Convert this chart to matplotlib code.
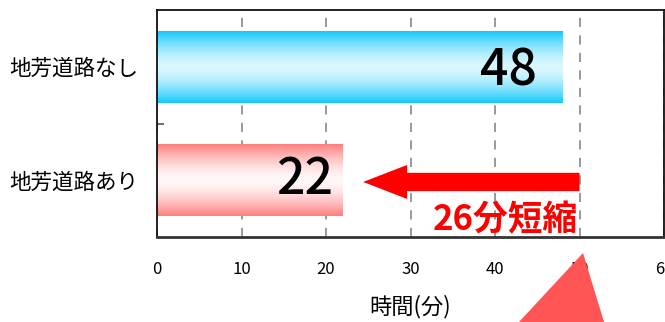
import numpy as np
import matplotlib
matplotlib.use("Agg")
import matplotlib.pyplot as plt
from matplotlib.patches import Polygon

plt.rcParams['font.family'] = ['Noto Sans CJK JP', 'DejaVu Sans']

# ---- data ----
categories = ['地芳道路なし', '地芳道路あり']
values = [48, 22]
label_offsets = [3.0, 1.2]
xticks = [0, 10, 20, 30, 40, 50, 60]
xtick_labels = ['0', '10', '20', '30', '40', '50', '60']
xlabel = '時間(分)'
note_text = '26分短縮'
arrow_start = 50
arrow_end = 24.4

edge_colors = [np.array([20, 200, 250]) / 255, np.array([255, 125, 125]) / 255]
center_colors = [np.array([218, 247, 255]) / 255, np.array([255, 248, 248]) / 255]

fig = plt.figure(figsize=(6.65, 3.22), dpi=100)
ax = fig.add_axes([157 / 665, 85 / 322, 507 / 665, 227 / 322])

ypos = [1, 0]
bar_h = 0.63

# gradient bars
n = 200
t = np.linspace(-1, 1, n)
prof = np.abs(t) ** 1.6
for y, v, ec, cc in zip(ypos, values, edge_colors, center_colors):
    img = cc[None, :] + (ec - cc)[None, :] * prof[:, None]
    img = img[:, None, :]
    ax.imshow(img, extent=[0, v, y - bar_h / 2, y + bar_h / 2], aspect='auto',
              interpolation='bilinear', zorder=2)
ax.set_xlim(0, 60)
ax.set_ylim(-0.5, 1.5)

# value labels
label_dy = [-0.04, 0.0]
for y, v, off, dy in zip(ypos, values, label_offsets, label_dy):
    ax.text(v - off, y + dy, str(v), ha='right', va='center', fontsize=36,
            fontweight='medium', color='black', zorder=4)

# grid
ax.set_xticks(xticks)
ax.set_xticklabels(xtick_labels, fontsize=12)
ax.xaxis.grid(True, color='#888888', linestyle=(0, (5.5, 5)), linewidth=1.2, zorder=1)
ax.set_axisbelow(True)
ax.tick_params(axis='x', length=0, pad=17)

ax.set_yticks(ypos)
ax.set_yticklabels(categories, fontsize=15.5)
ax.tick_params(axis='y', length=0, pad=13.5)
ax.set_yticks([0.5], minor=True)
ax.tick_params(axis='y', which='minor', direction='in', length=5, color='#555555', width=1.2)

ax.set_xlabel(xlabel, fontsize=16, labelpad=12)

for s in ['top', 'right', 'left']:
    ax.spines[s].set_color('#111111')
    ax.spines[s].set_linewidth(1.3)
ax.spines['bottom'].set_color('#333333')
ax.spines['bottom'].set_linewidth(2)

# arrow
ax.arrow(arrow_start, -0.015, arrow_end - arrow_start, 0, width=0.161, head_width=0.30,
         head_length=5.2, length_includes_head=True, color='#ff0000', linewidth=0, zorder=5)
ax.text(49.8, -0.438, note_text, ha='right', va='baseline', fontsize=25,
        fontweight='bold', color='#ff0000', zorder=5)

# decorative callout triangle
tri = Polygon([(513 / 665, -0.02), (583 / 665, 69 / 322), (606 / 665, -0.02)],
              closed=True, transform=fig.transFigure, facecolor='#ff5555',
              edgecolor='none', zorder=10)
fig.patches.append(tri)

fig.savefig('out.png', dpi=100)
